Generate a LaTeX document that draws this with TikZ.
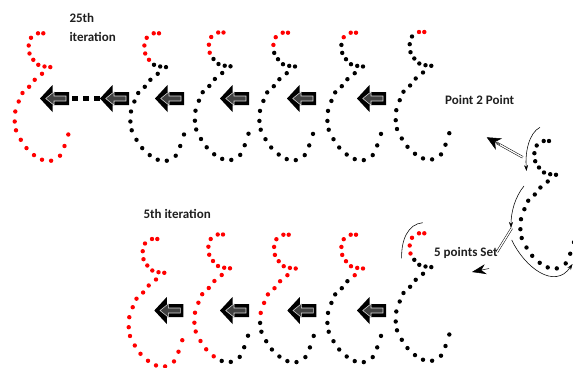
\documentclass[tikz,border=0pt]{standalone}
\usepackage{fontspec}
\newfontfamily\carlito{Carlito}
\usetikzlibrary{arrows.meta,calc}
\tikzset{
  lbl/.style={font=\carlito\bfseries\fontsize{13}{14}\selectfont, text=black!88, inner sep=0pt, anchor=base west},
  dbl/.style={draw=black, double=white, double distance=1.3pt, line width=0.5pt},
  bighead/.style={line width=0.5pt, -{Stealth[length=14pt,width=13pt]}},
  thinarr/.style={line width=0.55pt, -{Stealth[length=6pt,width=4pt]}},
  thinarc/.style={line width=0.55pt},
  outerarrow/.style={fill=black},
  innerarrow/.style={draw=white!85!black, fill=black!75, line width=0.55pt},
  sq/.style={fill=black}
}
\newcommand{\dotglyph}[3]{%
  \foreach \dx/\dy [count=\k] in {0/0,-5.3/0,-12.3/4.5,-14.6/12.2,-13.8/20.2,-10/26.5,-5/31.5,1.2/33.2,7/33.8,-1.3/40.5,-8.6/46.5,-14.2/53.5,-20.8/59.7,-24.6/68.2,-28/78.2,-28.6/88.2,-27.3/97,-22.5/106.5,-16.8/114.8,-9.3/121.8,-1.3/126.4,7.8/127.4,16.7/122.4,21.2/112.7,25/101.2}{%
    \ifnum\k>#3\relax
      \fill[black] (#1+\dx,#2+\dy) circle (2.2pt);
    \else
      \fill[red] (#1+\dx,#2+\dy) circle (2.2pt);
    \fi
  }}
\newcommand{\blockarrow}[2]{%
  \fill[outerarrow] (#1,#2) -- ++(12.5,-13.5) -- ++(0,7) -- ++(16.5,0) -- ++(0,13) -- ++(-16.5,0) -- ++(0,7) -- cycle;
  \filldraw[innerarrow] (#1+5.7,#2) -- ++(8.3,-6.7) -- ++(0,4.2) -- ++(12,0) -- ++(0,5) -- ++(-12,0) -- ++(0,4.2) -- cycle;
}
\begin{document}
\begin{tikzpicture}[x=1pt,y=-1pt]
\path[use as bounding box] (0,0) rectangle (573,367);
\clip (0,0) rectangle (573,367);
% top row glyphs
\dotglyph{43.3}{33.3}{25}
\dotglyph{159}{33.3}{6}
\dotglyph{223.5}{32.5}{5}
\dotglyph{288}{32.7}{4}
\dotglyph{356}{32.7}{3}
\dotglyph{424.3}{32}{2}
% bottom row glyphs
\dotglyph{157.3}{239}{25}
\dotglyph{223}{234.5}{20}
\dotglyph{288.7}{234.7}{15}
\dotglyph{356}{234.7}{10}
\dotglyph{424.3}{233.3}{5}
% right glyph
\dotglyph{549}{141}{0}
% top arrows
\blockarrow{40}{98.5}
\blockarrow{100}{98.5}
\blockarrow{155}{98.5}
\blockarrow{220}{98.5}
\blockarrow{287}{98.5}
\blockarrow{357}{98.5}
\fill[sq] (72,95.5) rectangle (77.5,101);
\fill[sq] (83,95.5) rectangle (88.5,101);
\fill[sq] (94,95.5) rectangle (100,101);
% bottom arrows
\blockarrow{154.3}{310.5}
\blockarrow{220}{310.5}
\blockarrow{287.3}{310.5}
\blockarrow{357}{310.5}
% labels
\node[lbl] (t25) at (69.3,22.5) {25th};
\node[lbl] (tit) at (69.3,41.5) {iteration};
\node[lbl] (t5) at (143.3,218) {5th iteration};
\node[lbl] (tp2p) at (445,104.5) {Point 2 Point};
\node[lbl] (t5ps) at (434,256.7) {5 points Set};
% Point 2 Point arrow
\coordinate (p2pS) at (522.7,157.3);
\coordinate (p2pT) at (486.7,137.3);
\draw[dbl] (p2pS) -- ($(p2pT)!11pt!(p2pS)$);
\draw[bighead] ($(p2pT)!15pt!(p2pS)$) -- (p2pT);
% 5 points set arrow
\coordinate (fpS) at (511.7,228.3);
\coordinate (fpE) at (497,252);
\coordinate (fpHb) at (489,268.5);
\coordinate (fpT) at (472,272);
\draw[dbl] (fpS) -- (fpE);
\draw[line width=0.5pt, -{Stealth[length=14pt,width=10pt]}] (fpHb) -- (fpT);
% curved arrows round right glyph
\coordinate (a1s) at (540,127.3);
\coordinate (a1e) at (526.5,171);
\draw[thinarr] (a1s) .. controls (529,133) and (525,152) .. (a1e);
\coordinate (a2s) at (524,186);
\coordinate (a2e) at (511,228);
\draw[thinarr] (a2s) .. controls (515,197) and (511,212) .. (a2e);
\coordinate (a3s) at (511.7,240);
\coordinate (a3e) at (572.5,264);
\draw[thinarr] (a3s) .. controls (525,268) and (555,290) .. (a3e);
% arc over bottom right glyph
\coordinate (a4s) at (401.7,258.3);
\coordinate (a4e) at (422.7,222.7);
\draw[thinarc] (a4s) .. controls (401,240) and (408,224) .. (a4e);
\end{tikzpicture}
\end{document}
